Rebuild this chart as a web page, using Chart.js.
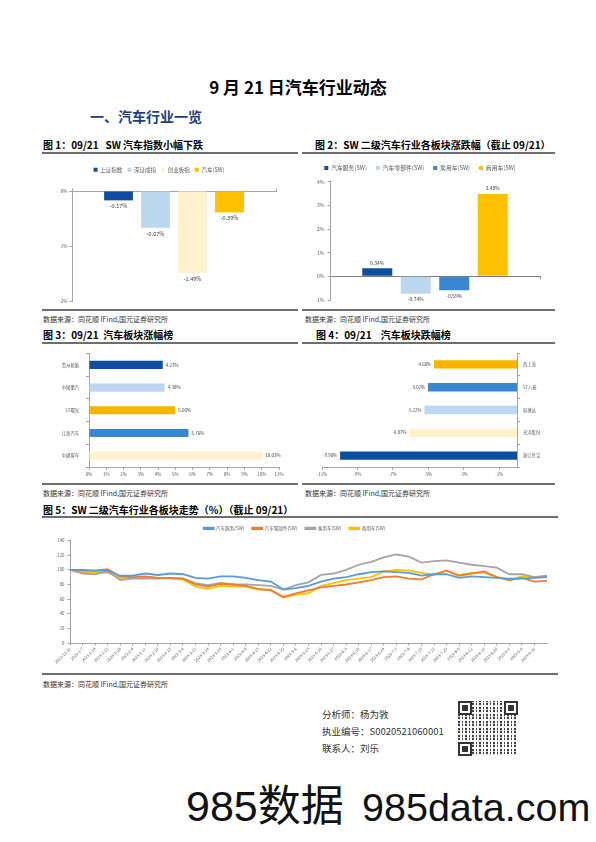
<!DOCTYPE html>
<html>
<head>
<meta charset="utf-8">
<script src="https://cdn.jsdelivr.net/npm/chart.js@4.4.0/dist/chart.umd.min.js"></script>
<style>
  body { margin: 0; background: #fff; font-family: "Noto Sans CJK SC", "Noto Sans", sans-serif; color: #000; }
  #page { position: relative; width: 596px; height: 842px; overflow: hidden; }
  .t { position: absolute; white-space: nowrap; }
  .hd { font-size: 10px; font-weight: bold; line-height: 12px; }
  .rule { position: absolute; height: 2px; background: #6e6e6e; }
  .src { font-size: 7px; line-height: 9px; color: #333; }
  .box { position: absolute; }
  .info { font-size: 9.5px; line-height: 12px; color: #333; }
  .qr { position: absolute; left: 458px; top: 701px; width: 60px; height: 55px; background:
        repeating-linear-gradient(90deg, #222 0 2px, #fff 2px 4px, #222 4px 5px, #fff 5px 7px),
        #fff; opacity: 0.85; }
  .qr::after { content: ""; position: absolute; inset: 0; background:
        repeating-linear-gradient(0deg, rgba(255,255,255,0.9) 0 2px, rgba(255,255,255,0) 2px 4px, rgba(255,255,255,0.7) 4px 5px, rgba(255,255,255,0) 5px 7px); }
  .fp { position: absolute; width: 10px; height: 10px; border: 2px solid #111; background: #fff; z-index: 2; }
  .fp::after { content: ""; position: absolute; left: 2px; top: 2px; width: 6px; height: 6px; background: #111; }
  .wm { position: absolute; font-family: "Liberation Sans", "Noto Sans CJK SC", sans-serif; line-height: 46px; color: #111; }
</style>
</head>
<body>
<div id="page">
  <div class="t" style="left:0;width:596px;text-align:center;top:76px;font-size:17px;font-weight:bold;line-height:22px;">9 月 21 日汽车行业动态</div>
  <div class="t" style="left:90px;top:107px;font-size:14px;font-weight:bold;line-height:18px;color:#1f3f7a;">一、汽车行业一览</div>

  <div class="t hd" style="left:43px;top:139px;">图 1：09/21&nbsp;&nbsp; SW 汽车指数小幅下跌</div>
  <div class="rule" style="left:42px;top:152px;width:256px;"></div>
  <div class="box" style="left:42px;top:156px;"><canvas id="c1" width="258" height="153"></canvas></div>
  <div class="rule" style="left:42px;top:309px;width:256px;"></div>
  <div class="t src" style="left:43px;top:315px;">数据来源：同花顺 IFind,国元证券研究所</div>

  <div class="t hd" style="left:315px;top:139px;">图 2：SW 二级汽车行业各板块涨跌幅（截止 09/21）</div>
  <div class="rule" style="left:302px;top:152px;width:253px;"></div>
  <div class="box" style="left:300px;top:156px;"><canvas id="c2" width="255" height="153"></canvas></div>
  <div class="rule" style="left:302px;top:309px;width:253px;"></div>
  <div class="t src" style="left:305px;top:315px;">数据来源：同花顺 IFind,国元证券研究所</div>

  <div class="t hd" style="left:43px;top:329px;">图 3：09/21&nbsp; 汽车板块涨幅榜</div>
  <div class="rule" style="left:42px;top:342px;width:256px;"></div>
  <div class="box" style="left:42px;top:344px;"><canvas id="c3" width="258" height="139"></canvas></div>
  <div class="rule" style="left:42px;top:483px;width:256px;"></div>
  <div class="t src" style="left:43px;top:489px;">数据来源：同花顺 IFind,国元证券研究所</div>

  <div class="t hd" style="left:316px;top:329px;">图 4：09/21&nbsp;&nbsp;&nbsp; 汽车板块跌幅榜</div>
  <div class="rule" style="left:302px;top:342px;width:253px;"></div>
  <div class="box" style="left:300px;top:344px;"><canvas id="c4" width="255" height="139"></canvas></div>
  <div class="rule" style="left:302px;top:483px;width:253px;"></div>
  <div class="t src" style="left:305px;top:489px;">数据来源：同花顺 IFind,国元证券研究所</div>

  <div class="t hd" style="left:43px;top:504px;">图 5：SW 二级汽车行业各板块走势（%）（截止 09/21）</div>
  <div class="rule" style="left:42px;top:516px;width:516px;"></div>
  <div class="box" style="left:42px;top:518px;"><canvas id="c5" width="516" height="154"></canvas></div>
  <div class="rule" style="left:42px;top:673px;width:516px;"></div>
  <div class="t src" style="left:43px;top:680px;">数据来源：同花顺 IFind,国元证券研究所</div>

  <div class="t info" style="left:322px;top:708px;">分析师：杨为敩</div>
  <div class="t info" style="left:322px;top:725px;">执业编号：S0020521060001</div>
  <div class="t info" style="left:322px;top:742px;">联系人：刘乐</div>
  <div class="qr">
    <div class="fp" style="left:0;top:0;"></div>
    <div class="fp" style="right:0;top:0;"></div>
    <div class="fp" style="left:0;bottom:0;"></div>
  </div>

  <div class="wm" style="left:186px;top:783px;font-size:43px;">985数据</div>
  <div class="wm" style="left:362px;top:784px;font-size:39.5px;">985data.com</div>
</div>

<script>
// ---- data ----
const indexNames = ["上证指数", "深证成指", "创业板指", "汽车(SW)"];
const indexChanges = [-0.17, -0.67, -1.49, -0.39];

const sectorNames = ["汽车服务(SW)", "汽车零部件(SW)", "乘用车(SW)", "商用车(SW)"];
const sectorChanges = [0.34, -0.74, -0.59, 3.48];

const gainerNames = ["贵州轮胎", "中国重汽", "ST曙光", "江淮汽车", "中通客车"];
const gainerChanges = [4.27, 4.38, 5.0, 5.76, 10.03];

const loserNames = ["西上海", "ST八菱", "科博达", "光洋股份", "浙江世宝"];
const loserChanges = [-4.68, -5.02, -5.22, -6.07, -9.98];
const loserTicks = [-11, -9, -7, -5, -3, -1];

const trendDates = [
  "2022-12-31", "2023-1-7", "2023-1-14", "2023-1-21", "2023-1-28", "2023-2-4", "2023-2-11",
  "2023-2-18", "2023-2-25", "2023-3-4", "2023-3-11", "2023-3-18", "2023-3-25", "2023-4-1",
  "2023-4-8", "2023-4-15", "2023-4-22", "2023-4-29", "2023-5-6", "2023-5-13", "2023-5-20",
  "2023-5-27", "2023-6-3", "2023-6-10", "2023-6-17", "2023-6-24", "2023-7-1", "2023-7-8",
  "2023-7-15", "2023-7-22", "2023-7-29", "2023-8-5", "2023-8-12", "2023-8-19", "2023-8-26",
  "2023-9-2", "2023-9-9", "2023-9-16", "2023-9-21",
];
const autoService = [100, 100, 99, 99, 92, 92, 95, 93, 95, 94, 89, 88, 91, 91, 89, 86, 84, 73, 75, 78,
  84, 88, 90, 94, 97, 98, 97, 96, 92, 94, 94, 89, 91, 90, 89, 88, 88, 89, 90];
const autoParts = [100, 99, 99, 101, 91, 90, 91, 89, 89, 88, 80, 77, 81, 80, 78, 74, 72, 63, 68, 72,
  76, 78, 80, 83, 86, 90, 91, 88, 87, 94, 99, 92, 95, 98, 90, 86, 89, 84, 85];
const passengerCars = [100, 95, 94, 98, 86, 88, 88, 88, 89, 88, 82, 79, 82, 80, 80, 79, 78, 73, 79, 83,
  93, 95, 100, 107, 111, 117, 121, 118, 110, 112, 113, 110, 107, 105, 103, 94, 94, 90, 92];
const commercialVehicles = [100, 97, 97, 96, 89, 89, 90, 89, 88, 87, 77, 74, 78, 77, 77, 73, 73, 62, 66, 68,
  78, 82, 86, 88, 90, 98, 100, 99, 96, 93, 99, 93, 96, 96, 90, 86, 91, 90, 91];

// ---- styles ----
const DARK_BLUE = "#0d4ea0";
const LIGHT_BLUE = "#bdd7ee";
const MID_BLUE = "#3a86d1";
const YELLOW = "#ffc000";
const PALE_YELLOW = "#fff2cc";
const AXIS = "#a6a6a6";
const TEXT = "#595959";
const FONT = '"Noto Sans CJK SC", "Noto Sans", sans-serif';

Chart.defaults.font.family = FONT;
Chart.defaults.color = TEXT;
Chart.defaults.animation = false;

// gap between the legend and the plot
const legendGap = {
  id: "legendGap",
  beforeInit(chart, args, opts) {
    if (!chart.legend) return;
    const fit = chart.legend.fit;
    chart.legend.fit = function () {
      fit.call(this);
      this.height += opts.extra || 0;
    };
  },
};

// value labels next to bars
const barLabels = {
  id: "barLabels",
  afterDatasetsDraw(chart, args, opts) {
    const ctx = chart.ctx;
    ctx.save();
    ctx.font = (opts.size || 5) + "px " + FONT;
    ctx.fillStyle = opts.color || "#404040";
    chart.data.datasets.forEach((ds, i) => {
      chart.getDatasetMeta(i).data.forEach((bar, j) => {
        const v = ds.data[j];
        const txt = v.toFixed(2) + "%";
        const gap = opts.gap || 3;
        if (opts.horizontal) {
          ctx.textBaseline = "middle";
          ctx.textAlign = v >= 0 ? "left" : "right";
          ctx.fillText(txt, v >= 0 ? bar.x + gap : bar.x - gap, bar.y);
        } else {
          ctx.textAlign = "center";
          ctx.textBaseline = v >= 0 ? "bottom" : "top";
          ctx.fillText(txt, bar.x, v >= 0 ? bar.y - gap : bar.y + gap);
        }
      });
    });
    ctx.restore();
  },
};

const pct = (v) => v + "%";

function axisGrid(len) {
  return { display: true, drawOnChartArea: false, drawTicks: true, tickLength: len, color: AXIS };
}

// ---- 图1 ----
const palette1 = [DARK_BLUE, LIGHT_BLUE, PALE_YELLOW, YELLOW];
new Chart(document.getElementById("c1"), {
  type: "bar",
  data: {
    labels: [""],
    datasets: indexNames.map((name, i) => ({
      label: name,
      data: [indexChanges[i]],
      backgroundColor: palette1[i],
      barPercentage: 0.78,
      categoryPercentage: 0.725,
    })),
  },
  options: {
    responsive: false,
    layout: { padding: { top: 6, right: 24, bottom: 8, left: 0 } },
    plugins: {
      legend: { labels: { boxWidth: 4, boxHeight: 4, padding: 5, font: { size: 5.5 }, color: TEXT } },
      tooltip: { enabled: false },
      legendGap: { extra: 6 },
      barLabels: { size: 5.5, gap: 3 },
    },
    scales: {
      x: {
        position: "top",
        ticks: { display: false },
        grid: axisGrid(2.5),
        border: { color: AXIS },
      },
      y: {
        min: -2, max: 0,
        ticks: { stepSize: 1, callback: pct, font: { size: 4.5 }, padding: 2 },
        grid: axisGrid(2.5),
        border: { color: AXIS },
        afterFit: (s) => { s.width = 30; },
      },
    },
  },
  plugins: [legendGap, barLabels],
});

// ---- 图2 ----
const palette2 = [DARK_BLUE, LIGHT_BLUE, MID_BLUE, YELLOW];
new Chart(document.getElementById("c2"), {
  type: "bar",
  data: {
    labels: [""],
    datasets: sectorNames.map((name, i) => ({
      label: name,
      data: [sectorChanges[i]],
      backgroundColor: palette2[i],
      barPercentage: 0.78,
      categoryPercentage: 0.733,
    })),
  },
  options: {
    responsive: false,
    layout: { padding: { top: 0, right: 15, bottom: 9, left: 0 } },
    plugins: {
      legend: { labels: { boxWidth: 4, boxHeight: 4, padding: 9, font: { size: 5.8 }, color: TEXT } },
      tooltip: { enabled: false },
      legendGap: { extra: 1 },
      barLabels: { size: 5, gap: 3 },
    },
    scales: {
      x: {
        position: { y: 0 },
        ticks: { display: false },
        grid: axisGrid(2.5),
        border: { color: "#7f7f7f" },
      },
      y: {
        min: -1, max: 4,
        ticks: { stepSize: 1, callback: pct, font: { size: 5 }, padding: 3 },
        grid: axisGrid(2.5),
        border: { color: AXIS },
        afterFit: (s) => { s.width = 30; },
      },
    },
  },
  plugins: [legendGap, barLabels],
});

// ---- 图3 ----
new Chart(document.getElementById("c3"), {
  type: "bar",
  data: {
    labels: gainerNames,
    datasets: [{
      data: gainerChanges,
      backgroundColor: [DARK_BLUE, LIGHT_BLUE, "#f7b500", MID_BLUE, PALE_YELLOW],
      barPercentage: 0.36,
      categoryPercentage: 1,
    }],
  },
  options: {
    responsive: false,
    indexAxis: "y",
    layout: { padding: { top: 9, right: 21, bottom: 0, left: 0 } },
    plugins: {
      legend: { display: false },
      tooltip: { enabled: false },
      barLabels: { horizontal: true, size: 4.5, gap: 3 },
    },
    scales: {
      x: {
        min: 0, max: 11,
        ticks: { stepSize: 1, callback: pct, font: { size: 4.5 }, padding: 2 },
        grid: axisGrid(3),
        border: { color: AXIS },
        afterFit: (s) => { s.height = 16; },
      },
      y: {
        ticks: { font: { size: 4.3 }, padding: 7 },
        grid: axisGrid(3),
        border: { color: AXIS },
        afterFit: (s) => { s.width = 47; },
      },
    },
  },
  plugins: [barLabels],
});

// ---- 图4 ----
new Chart(document.getElementById("c4"), {
  type: "bar",
  data: {
    labels: loserNames,
    datasets: [{
      data: loserChanges,
      backgroundColor: ["#f7b500", MID_BLUE, LIGHT_BLUE, PALE_YELLOW, DARK_BLUE],
      barPercentage: 0.37,
      categoryPercentage: 1,
    }],
  },
  options: {
    responsive: false,
    indexAxis: "y",
    layout: { padding: { top: 9, right: 0, bottom: 0, left: 22 } },
    plugins: {
      legend: { display: false },
      tooltip: { enabled: false },
      barLabels: { horizontal: true, size: 4.3, gap: 3 },
    },
    scales: {
      x: {
        min: -11, max: 0,
        afterBuildTicks: (s) => { s.ticks = loserTicks.map((v) => ({ value: v })); },
        ticks: { callback: pct, font: { size: 4.3 }, padding: 2 },
        grid: axisGrid(3),
        border: { color: AXIS },
        afterFit: (s) => { s.height = 16; },
      },
      y: {
        position: "right",
        ticks: { font: { size: 4.3 }, padding: 3 },
        grid: axisGrid(3),
        border: { color: AXIS },
        afterFit: (s) => { s.width = 38; },
      },
    },
  },
  plugins: [barLabels],
});

// ---- 图5 ----
const trendSeries = [autoService, autoParts, passengerCars, commercialVehicles];
const palette5 = ["#5b9bd5", "#ed7d31", "#a5a5a5", "#ffc000"];
new Chart(document.getElementById("c5"), {
  type: "line",
  data: {
    labels: trendDates,
    datasets: sectorNames.map((name, i) => ({
      label: name,
      data: trendSeries[i],
      borderColor: palette5[i],
      backgroundColor: palette5[i],
      borderWidth: 1.8,
      pointRadius: 0,
      tension: 0,
    })),
  },
  options: {
    responsive: false,
    layout: { padding: { top: 0, right: 11, bottom: 0, left: 0 } },
    plugins: {
      legend: { labels: { boxWidth: 10, boxHeight: 1.5, padding: 8, font: { size: 4.6 }, color: TEXT } },
      tooltip: { enabled: false },
      legendGap: { extra: 0 },
    },
    scales: {
      x: {
        offset: false,
        ticks: {
          autoSkip: false, minRotation: 45, maxRotation: 45, font: { size: 4 }, padding: 1,
          callback: function (v, i) { return i < trendDates.length - 1 ? this.getLabelForValue(v) : null; },
        },
        grid: axisGrid(2.5),
        border: { color: AXIS },
        afterFit: (s) => { s.height = 29; },
      },
      y: {
        min: 0, max: 140,
        ticks: { stepSize: 20, font: { size: 4.3 }, padding: 3 },
        grid: axisGrid(2.5),
        border: { color: AXIS },
        afterFit: (s) => { s.width = 28; },
      },
    },
  },
  plugins: [legendGap],
});
</script>
</body>
</html>
